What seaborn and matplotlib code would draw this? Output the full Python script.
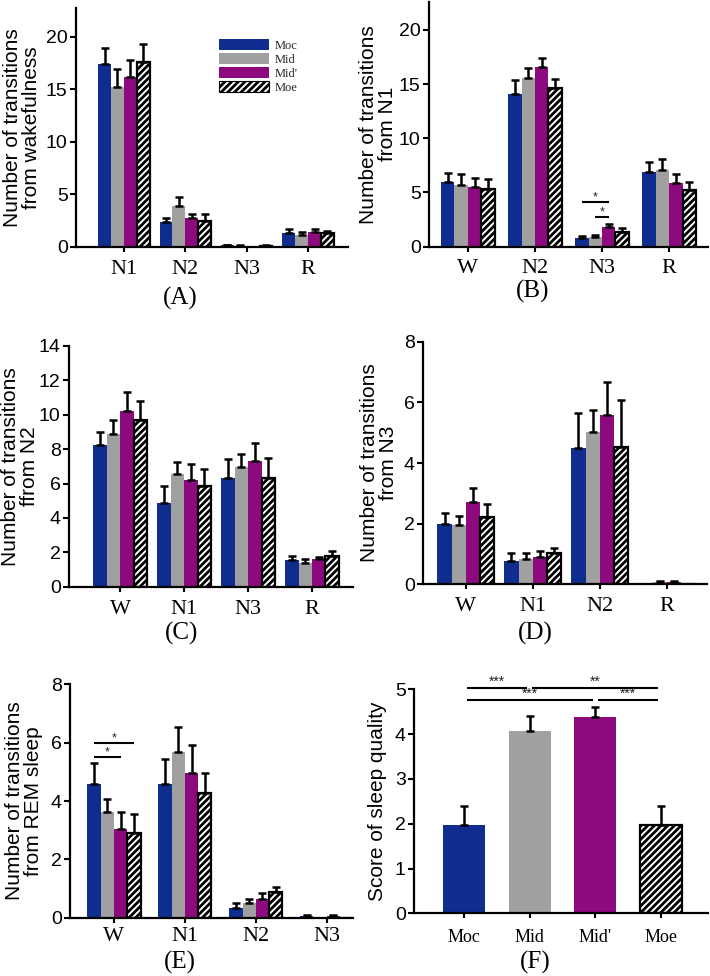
import numpy as np
import pandas as pd
import matplotlib
matplotlib.use("Agg")
import matplotlib.pyplot as plt
import seaborn as sns
from matplotlib.patches import Patch

sns.set_theme(style="ticks")
plt.rcParams["font.family"] = ["Liberation Sans", "DejaVu Sans"]
plt.rcParams["hatch.linewidth"] = 2.0
SERIF = ["Liberation Serif", "DejaVu Serif"]
HATCH = "/////"

# ---------------- data ----------------
groups = ["Moc", "Mid", "Mid'", "Moe"]
colors = ["#0F2D8F", "#A0A0A0", "#8C0A7E", "#FFFFFF"]

# (A) transitions from wakefulness
stages_a = ["N1", "N2", "N3", "R"]
means_a = [[17.4, 2.35, 0.12, 1.3],
           [15.2, 3.9, 0.08, 1.15],
           [16.2, 2.7, 0.0, 1.4],
           [17.6, 2.45, 0.10, 1.3]]
errs_a = [[1.5, 0.4, 0.05, 0.35],
          [1.7, 0.8, 0.04, 0.25],
          [1.6, 0.45, 0.0, 0.3],
          [1.7, 0.65, 0.05, 0.2]]

# (B) transitions from N1
stages_b = ["W", "N2", "N3", "R"]
means_b = [[6.0, 14.1, 0.8, 6.9],
           [5.7, 15.6, 0.9, 7.1],
           [5.5, 16.6, 1.8, 5.9],
           [5.3, 14.6, 1.4, 5.2]]
errs_b = [[0.8, 1.3, 0.15, 0.9],
          [1.0, 0.9, 0.15, 1.0],
          [0.8, 0.8, 0.3, 0.8],
          [0.9, 0.9, 0.3, 0.8]]
sig_b = [("N3", "Moc", "Mid'", 4.1, "*"), ("N3", "Mid", "Mid'", 2.75, "*")]

# (C) transitions from N2
stages_c = ["W", "N1", "N3", "R"]
means_c = [[8.25, 4.85, 6.35, 1.55],
           [8.9, 6.55, 6.95, 1.35],
           [10.2, 6.2, 7.3, 1.6],
           [9.7, 5.85, 6.35, 1.8]]
errs_c = [[0.75, 1.0, 1.1, 0.25],
          [0.8, 0.7, 0.75, 0.25],
          [1.1, 0.95, 1.05, 0.15],
          [1.1, 1.0, 1.15, 0.25]]

# (D) transitions from N3
stages_d = ["W", "N1", "N2", "R"]
means_d = [[1.98, 0.78, 4.48, 0.0],
           [1.96, 0.82, 5.03, 0.07],
           [2.71, 0.89, 5.58, 0.07],
           [2.21, 1.02, 4.52, 0.0]]
errs_d = [[0.36, 0.24, 1.16, 0.0],
          [0.30, 0.22, 0.72, 0.03],
          [0.48, 0.22, 1.09, 0.03],
          [0.44, 0.17, 1.56, 0.0]]

# (E) transitions from REM sleep
stages_e = ["W", "N1", "N2", "N3"]
means_e = [[4.58, 4.58, 0.32, 0.05],
           [3.61, 5.68, 0.49, 0.0],
           [3.03, 4.95, 0.63, 0.05],
           [2.89, 4.26, 0.89, 0.0]]
errs_e = [[0.71, 0.86, 0.17, 0.03],
          [0.46, 0.87, 0.14, 0.0],
          [0.60, 0.97, 0.20, 0.03],
          [0.65, 0.69, 0.17, 0.0]]
sig_e = [("W", "Moc", "Moe", 5.99, "*"), ("W", "Moc", "Mid'", 5.52, "*")]

# (F) score of sleep quality
scores_f = [1.96, 4.08, 4.39, 1.96]
errs_f = [0.44, 0.33, 0.21, 0.44]
sig_f = [("Moc", "Mid", 5.04, "***"), ("Mid", "Moe", 5.04, "**"),
         ("Moc", "Mid'", 4.77, "***"), ("Mid'", "Moe", 4.77, "***")]

# ---------------- layout (pixels: left, top, right, bottom) ----------------
W, H = 710, 976
fig = plt.figure(figsize=(W / 100, H / 100), dpi=100)


def make_ax(l, t, r, b):
    return fig.add_axes([l / W, 1 - b / H, (r - l) / W, (b - t) / H])


def style(ax, ylim, yticks, ylabel, xlim, label_right_px, l, r,
          xlabsize=16, xpad=6):
    ax.set_xlim(*xlim)
    ax.set_ylim(*ylim)
    ax.set_yticks(yticks)
    sns.despine(ax=ax)
    for sp in ["left", "bottom"]:
        ax.spines[sp].set_linewidth(1.6)
        ax.spines[sp].set_color("black")
    ax.tick_params(axis="y", direction="out", length=4, width=1.5,
                   labelsize=14, pad=2, colors="black")
    ax.tick_params(axis="x", direction="out", length=3.5, width=1.5,
                   labelsize=xlabsize, pad=xpad, colors="black")
    for t in ax.get_xticklabels():
        t.set_fontfamily(SERIF)
    ax.set_xlabel("")
    ax.set_ylabel(ylabel, fontsize=15, linespacing=1.0, color="black")
    ax.yaxis.set_label_coords((label_right_px - l) / (r - l), 0.5)


def group_containers(ax):
    out = {}
    for cont in ax.containers:
        fc = np.array(cont.patches[0].get_facecolor()[:3])
        for g, c in zip(groups, colors):
            if np.allclose(fc, matplotlib.colors.to_rgb(c), atol=0.02):
                out[g] = cont
    return out


def add_err(ax, cont, errs):
    xs, ys, es = [], [], []
    for p, e in zip(cont.patches, errs):
        if p.get_height() == 0 and e == 0:
            continue
        xs.append(p.get_x() + p.get_width() / 2)
        ys.append(p.get_height())
        es.append(e)
    ax.errorbar(xs, ys, yerr=[np.zeros(len(es)), es], fmt="none",
                ecolor="black", elinewidth=1.8, capsize=2.8, capthick=1.8,
                zorder=4)


def hatch_moe(cont):
    for p in cont.patches:
        p.set_facecolor("white")
        p.set_hatch(HATCH)
        p.set_edgecolor("black")
        p.set_linewidth(1.6)


def grouped_panel(ax, stages, means, errs, width):
    rows = []
    for g, m in zip(groups, means):
        for s, v in zip(stages, m):
            rows.append((s, g, v))
    df = pd.DataFrame(rows, columns=["stage", "group", "value"])
    sns.barplot(data=df, x="stage", y="value", hue="group", order=stages,
                hue_order=groups, palette=dict(zip(groups, colors)),
                width=width, errorbar=None, saturation=1, linewidth=0,
                edgecolor="none", legend=False, ax=ax)
    conts = group_containers(ax)
    for g, e in zip(groups, errs):
        add_err(ax, conts[g], e)
    hatch_moe(conts["Moe"])
    return conts


def center(cont, idx):
    p = cont.patches[idx]
    return p.get_x() + p.get_width() / 2


def sig_line(ax, x1, x2, y, text, fs=9):
    ax.plot([x1, x2], [y, y], color="black", lw=1.5, solid_capstyle="butt",
            zorder=5, clip_on=False)
    ax.annotate(text, ((x1 + x2) / 2, y), xytext=(0, 1),
                textcoords="offset points", ha="center", va="baseline",
                fontsize=fs, color="#222222", annotation_clip=False)


# ---- (A)
A = (76, 8.3, 348, 246.7)
axA = make_ax(*A)
grouped_panel(axA, stages_a, means_a, errs_a, 0.84)
style(axA, (0, 22.7), [0, 5, 10, 15, 20],
      "Number of transitions\nfrom wakefulness", (-0.78, 3.65), 41, A[0], A[2],
      xpad=6)
handles = [Patch(facecolor=c, edgecolor=("black" if g == "Moe" else "none"),
                 hatch=(HATCH if g == "Moe" else None), linewidth=0.8)
           for g, c in zip(groups, colors)]
axA.legend(handles, groups, loc="upper left",
           bbox_to_anchor=((213 - A[0]) / (A[2] - A[0]),
                           (A[3] - 33) / (A[3] - A[1])),
           frameon=False, borderpad=0, handlelength=4.0, handleheight=0.9,
           labelspacing=0.12, handletextpad=0.4,
           prop={"family": SERIF, "size": 9})

# ---- (B)
B = (429, 1.7, 708, 246.7)
axB = make_ax(*B)
cB = grouped_panel(axB, stages_b, means_b, errs_b, 0.80)
style(axB, (0, 22.6), [0, 5, 10, 15, 20],
      "Number of transitions\nfrom N1", (-0.58, 3.58), 397, B[0], B[2],
      xpad=5)
for st, g1, g2, y, t in sig_b:
    i = stages_b.index(st)
    sig_line(axB, center(cB[g1], i), center(cB[g2], i), y, t)

# ---- (C)
C = (69, 346, 353, 586.7)
axC = make_ax(*C)
grouped_panel(axC, stages_c, means_c, errs_c, 0.84)
style(axC, (0, 14), list(range(0, 15, 2)),
      "Number of transitions\nffrom N2", (-0.80, 3.64), 39, C[0], C[2])

# ---- (D)
D = (423, 341.7, 707, 584.3)
axD = make_ax(*D)
grouped_panel(axD, stages_d, means_d, errs_d, 0.85)
style(axD, (0, 8), [0, 2, 4, 6, 8],
      "Number of transitions\nfrom N3", (-0.64, 3.60), 398, D[0], D[2])

# ---- (E)
E = (70, 684.3, 353, 917.7)
axE = make_ax(*E)
cE = grouped_panel(axE, stages_e, means_e, errs_e, 0.75)
style(axE, (0, 8), [0, 2, 4, 6, 8],
      "Number of transitions\nfrom REM sleep", (-0.62, 3.37), 43, E[0], E[2],
      xpad=3)
for st, g1, g2, y, t in sig_e:
    i = stages_e.index(st)
    sig_line(axE, center(cE[g1], i), center(cE[g2], i), y, t)

# ---- (F)
F = (414, 689.3, 708, 913.3)
axF = make_ax(*F)
dfF = pd.DataFrame({"group": groups, "score": scores_f})
sns.barplot(data=dfF, x="group", y="score", hue="group", order=groups,
            hue_order=groups, palette=dict(zip(groups, colors)), width=0.64,
            errorbar=None, saturation=1, linewidth=0, edgecolor="none",
            legend=False, ax=axF)
cF = group_containers(axF)
for i, g in enumerate(groups):
    add_err(axF, cF[g], [errs_f[i]] if len(cF[g].patches) == 1 else
            [errs_f[i] if j == i else 0 for j in range(len(cF[g].patches))])
hatch_moe(cF["Moe"])
style(axF, (0, 5), [0, 1, 2, 3, 4, 5], "Score of sleep quality",
      (-0.76, 3.72), 387, F[0], F[2], xlabsize=13, xpad=8)


def fcenter(g):
    cont = cF[g]
    p = max(cont.patches, key=lambda q: q.get_height())
    return p.get_x() + p.get_width() / 2


for g1, g2, y, t in sig_f:
    sig_line(axF, fcenter(g1) + 0.04, fcenter(g2) - 0.04, y, t, fs=10)

# ---- panel letters
for txt, (px, py) in zip(["(A)", "(B)", "(C)", "(D)", "(E)", "(F)"],
                         [(180, 298), (533, 291), (182, 633), (535, 633),
                          (180, 962), (535, 962)]):
    fig.text(px / W, 1 - py / H, txt, ha="center", va="center", fontsize=18,
             family=SERIF, color="black")

fig.savefig("out.png", dpi=100)
